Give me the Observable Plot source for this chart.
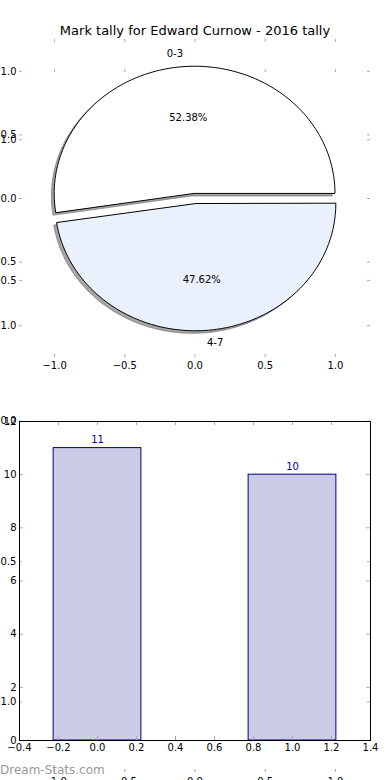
<!DOCTYPE html>
<html><head><meta charset="utf-8">
<script src="https://cdn.jsdelivr.net/npm/d3@7"></script>
<script src="https://cdn.jsdelivr.net/npm/@observablehq/plot@0.6"></script>
<style>
html,body{margin:0;padding:0;background:#fff;}
#fig{position:relative;width:390px;height:780px;overflow:hidden;font-family:"DejaVu Sans",sans-serif;}
#fig svg{position:absolute;left:0;top:0;}
#wm{position:absolute;left:0;top:763px;font:12px "DejaVu Sans",sans-serif;color:#999;white-space:nowrap;}
</style></head><body><div id="fig"></div>
<script>
// ---- data ----
const title = "Mark tally for Edward Curnow - 2016 tally";
const sliceLabels = ["0-3", "4-7"];
const sliceCounts = [11, 10];
const sliceColors = ["#ffffff", "#eaf0fc"];
const sliceExplode = [0.04, 0.04];
const barCategories = [0, 1];
const barValues = [11, 10];
const barTexts = ["11", "10"];
const pieTicks = [-1, -0.5, 0, 0.5, 1];
const ghostTicks = [-1, -0.5, 0, 0.5, 1];
const barXTicks = [-0.4, -0.2, 0, 0.2, 0.4, 0.6, 0.8, 1.0, 1.2, 1.4];
const barYTicks = [0, 2, 4, 6, 8, 10, 12];
const watermark = "Dream-Stats.com";

// ---- layout ----
const W = 390, H = 780, ML = 19, MR = 20;
const fig = document.getElementById("fig");
const fmt1 = d3.format(".1f");
const tickColor = "#aaaaaa";
const baseStyle = {background: "transparent", fontFamily: "DejaVu Sans, sans-serif", fontSize: "10px", color: "#000", overflow: "visible"};

function tickMarks(xt, yt, plotW, plotH, len = 3) {
  return [
    Plot.tickX(xt, {x: d => d, stroke: tickColor, insetBottom: plotH - len}),
    Plot.tickX(xt, {x: d => d, stroke: tickColor, insetTop: plotH - len}),
    Plot.tickY(yt, {y: d => d, stroke: tickColor, insetRight: plotW - len}),
    Plot.tickY(yt, {y: d => d, stroke: tickColor, insetLeft: plotW - len})
  ];
}

// ---- pie geometry from the counts ----
const total = d3.sum(sliceCounts);
const wedgeRows = [], shadowRows = [], nameRows = [], pctRows = [];
let a0 = 0;
sliceCounts.forEach((c, i) => {
  const a1 = a0 + c / total * 2 * Math.PI;
  const am = (a0 + a1) / 2;
  const cx = sliceExplode[i] * Math.cos(am), cy = sliceExplode[i] * Math.sin(am);
  const pts = [{x: cx, y: cy}];
  const n = 160;
  for (let k = 0; k <= n; k++) {
    const a = a0 + (a1 - a0) * k / n;
    pts.push({x: cx + Math.cos(a), y: cy + Math.sin(a)});
  }
  pts.forEach(p => {
    wedgeRows.push({x: p.x, y: p.y, i, color: sliceColors[i]});
    shadowRows.push({x: p.x - 0.02, y: p.y - 0.02, i});
  });
  nameRows.push({x: cx + 1.1 * Math.cos(am), y: cy + 1.1 * Math.sin(am), t: sliceLabels[i]});
  pctRows.push({x: cx + 0.6 * Math.cos(am), y: cy + 0.6 * Math.sin(am), t: (c / total * 100).toFixed(2) + "%"});
  a0 = a1;
});

// ---- ghost (empty) axes spanning the figure ----
const gTop = 69, gBottom = 8;
const ghost = Plot.plot({
  width: W, height: H, marginTop: gTop, marginBottom: gBottom, marginLeft: ML, marginRight: MR,
  x: {domain: [-1.25, 1.25]}, y: {domain: [-1.25, 1.25]},
  style: baseStyle,
  marks: [
    ...tickMarks(ghostTicks, ghostTicks, W - ML - MR, H - gTop - gBottom),
    Plot.axisY(ghostTicks, {anchor: "left", tickSize: 0, tickPadding: 3, tickFormat: fmt1, label: null, fontSize: 10}),
    Plot.axisX(ghostTicks, {anchor: "bottom", tickSize: 0, tickPadding: 5, tickFormat: fmt1, label: null, fontSize: 10})
  ]
});

// ---- pie axes ----
const pTop = 39, pBottom = H - 357;
const pie = Plot.plot({
  width: W, height: H, marginTop: pTop, marginBottom: pBottom, marginLeft: ML, marginRight: MR,
  x: {domain: [-1.25, 1.25]}, y: {domain: [-1.25, 1.25]},
  color: {type: "identity"},
  style: baseStyle,
  marks: [
    ...tickMarks(pieTicks, pieTicks, W - ML - MR, H - pTop - pBottom),
    Plot.axisY(pieTicks, {anchor: "left", tickSize: 0, tickPadding: 3, tickFormat: fmt1, label: null, fontSize: 10}),
    Plot.axisX(pieTicks, {anchor: "bottom", tickSize: 0, tickPadding: 4, tickFormat: fmt1, label: null, fontSize: 10}),
    Plot.line(shadowRows, {x: "x", y: "y", z: "i", curve: "linear-closed", fill: "#4d4d4d", fillOpacity: 0.5, stroke: "#4d4d4d", strokeOpacity: 0.5, strokeWidth: 1}),
    Plot.line(wedgeRows, {x: "x", y: "y", z: "i", curve: "linear-closed", fill: "color", stroke: "#000", strokeWidth: 1}),
    Plot.text(nameRows.filter(d => d.x > 0), {x: "x", y: "y", text: "t", textAnchor: "start", fontSize: 10}),
    Plot.text(nameRows.filter(d => d.x <= 0), {x: "x", y: "y", text: "t", textAnchor: "end", fontSize: 10}),
    Plot.text(pctRows, {x: "x", y: "y", text: "t", fontSize: 10}),
    Plot.text([title], {frameAnchor: "top", lineAnchor: "middle", dy: -9, fontSize: 13})
  ]
});

// ---- bar axes ----
const bTop = 421, bBottom = 40;
const bars = barCategories.map((c, i) => ({c, v: barValues[i], t: barTexts[i]}));
const bar = Plot.plot({
  width: W, height: H, marginTop: bTop, marginBottom: bBottom, marginLeft: ML, marginRight: MR,
  x: {domain: [-0.4, 1.4]}, y: {domain: [0, 12]},
  style: baseStyle,
  marks: [
    Plot.rect(bars, {x1: d => d.c - 0.225, x2: d => d.c + 0.225, y1: d => 0, y2: "v", fill: "#cccce6", stroke: "#00008b", strokeWidth: 1}),
    ...tickMarks(barXTicks, barYTicks, W - ML - MR, H - bTop - bBottom, 4),
    Plot.frame({stroke: "#000", strokeWidth: 1}),
    Plot.text(bars, {x: "c", y: "v", text: "t", dy: -8, fill: "#00008b", fontSize: 10}),
    Plot.axisY(barYTicks, {anchor: "left", tickSize: 0, tickPadding: 3, tickFormat: d3.format("d"), label: null, fontSize: 10}),
    Plot.axisX(barXTicks, {anchor: "bottom", tickSize: 0, tickPadding: 3, tickFormat: fmt1, label: null, fontSize: 10})
  ]
});

fig.append(ghost, pie, bar);
const wm = document.createElement("div");
wm.id = "wm"; wm.textContent = watermark;
fig.append(wm);
</script></body></html>
